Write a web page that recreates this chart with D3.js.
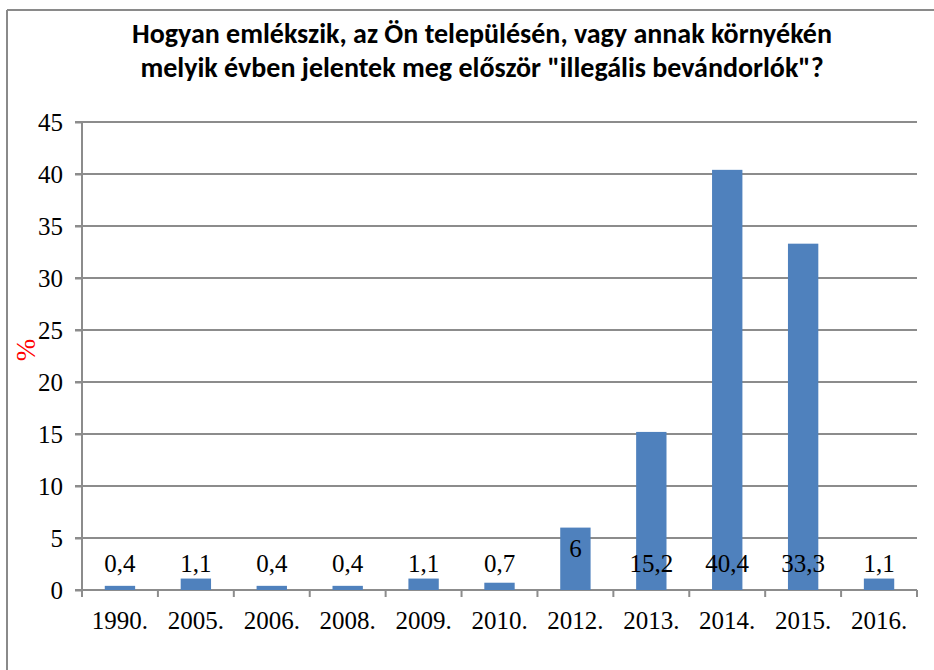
<!DOCTYPE html>
<html>
<head>
<meta charset="utf-8">
<script src="https://cdnjs.cloudflare.com/ajax/libs/d3/7.8.5/d3.min.js"></script>
<style>
  body { margin: 0; background: #fff; }
  svg { display: block; }
</style>
</head>
<body>
<div id="content"></div>
<script>
// chart data
var years = ["1990.", "2005.", "2006.", "2008.", "2009.", "2010.", "2012.", "2013.", "2014.", "2015.", "2016."],
    values = [0.4, 1.1, 0.4, 0.4, 1.1, 0.7, 6, 15.2, 40.4, 33.3, 1.1],
    valueLabels = ["0,4", "1,1", "0,4", "0,4", "1,1", "0,7", "6", "15,2", "40,4", "33,3", "1,1"],
    yTicks = [0, 5, 10, 15, 20, 25, 30, 35, 40, 45],
    titleLines = ["Hogyan emlékszik, az Ön településén, vagy annak környékén",
                  "melyik évben jelentek meg először \"illegális bevándorlók\"?"],
    yLabel = "%",
    labelInsideTop = ["2012."];

var width = 934,
    height = 670,
    margin = {top: 122, right: 17, bottom: 80, left: 82},
    serif = "'Liberation Serif', 'DejaVu Serif', serif",
    grid = "#8c8c8c";

var svg = d3.select('#content').append('svg')
    .attr('width', width)
    .attr('height', height);

// frame (only top and left edges are visible in the original)
svg.append('line').attr('x1', 7).attr('x2', width).attr('y1', 10).attr('y2', 10)
    .attr('stroke', '#8a8a8a').attr('stroke-width', 2);
svg.append('line').attr('x1', 7).attr('x2', 7).attr('y1', 10).attr('y2', height)
    .attr('stroke', '#8a8a8a').attr('stroke-width', 2);

var xScale = d3.scaleBand()
        .domain(years)
        .range([margin.left, width - margin.right])
        .paddingInner(0.6)
        .paddingOuter(0.3),
    yScale = d3.scaleLinear()
        .domain([0, 45])
        .range([height - margin.bottom, margin.top]);

// gridlines
svg.append('g')
    .selectAll('line')
    .data(yTicks)
    .enter()
    .append('line')
    .attr('x1', margin.left - 7)
    .attr('x2', width - margin.right)
    .attr('y1', function(d){ return yScale(d); })
    .attr('y2', function(d){ return yScale(d); })
    .attr('stroke', grid)
    .attr('stroke-width', 2);

// y axis
var yAxis = d3.axisLeft(yScale)
    .tickValues(yTicks)
    .tickSize(7)
    .tickPadding(12);
var gy = svg.append('g')
    .attr('transform', 'translate(' + margin.left + ',0)')
    .call(yAxis);
gy.select('.domain').attr('stroke', grid).attr('stroke-width', 2)
    .attr('d', 'M0,' + yScale(45) + 'V' + (yScale(0) + 7));
gy.selectAll('.tick line').attr('stroke', grid).attr('stroke-width', 2);
gy.selectAll('.tick text')
    .attr('font-family', serif)
    .attr('font-size', 25)
    .attr('fill', '#000');

// x axis: ticks between categories
var step = xScale.step(),
    x0 = margin.left,
    bounds = d3.range(years.length + 1).map(function(i){ return x0 + i * step; });
svg.append('g')
    .selectAll('line')
    .data(bounds)
    .enter()
    .append('line')
    .attr('x1', function(d){ return d; })
    .attr('x2', function(d){ return d; })
    .attr('y1', yScale(0))
    .attr('y2', yScale(0) + 7)
    .attr('stroke', grid)
    .attr('stroke-width', 2);

svg.append('g')
    .selectAll('text')
    .data(years)
    .enter()
    .append('text')
    .attr('x', function(d){ return xScale(d) + xScale.bandwidth() / 2; })
    .attr('y', yScale(0) + 39)
    .attr('text-anchor', 'middle')
    .attr('font-family', serif)
    .attr('font-size', 25)
    .text(function(d){ return d; });

// bars
svg.append('g')
    .selectAll('rect')
    .data(years)
    .enter()
    .append('rect')
    .attr('x', function(d){ return xScale(d); })
    .attr('y', function(d, i){ return yScale(values[i]); })
    .attr('width', xScale.bandwidth())
    .attr('height', function(d, i){ return yScale(0) - yScale(values[i]); })
    .attr('fill', '#4f81bd');

// value labels
svg.append('g')
    .selectAll('text')
    .data(years)
    .enter()
    .append('text')
    .attr('x', function(d){ return xScale(d) + xScale.bandwidth() / 2; })
    .attr('y', function(d, i){
        if(labelInsideTop.indexOf(d) >= 0)
            return yScale(values[i]) + 29;
        return yScale(0) - 18;
    })
    .attr('text-anchor', 'middle')
    .attr('font-family', serif)
    .attr('font-size', 25)
    .text(function(d, i){ return valueLabels[i]; });

// axis title
svg.append('text')
    .attr('transform', 'translate(35,350) rotate(-90)')
    .attr('text-anchor', 'middle')
    .attr('font-family', serif)
    .attr('font-size', 27)
    .attr('fill', '#ff0000')
    .text(yLabel);

// chart title
svg.append('g')
    .selectAll('text')
    .data(titleLines)
    .enter()
    .append('text')
    .attr('x', 482)
    .attr('y', function(d, i){ return 43 + i * 34; })
    .attr('text-anchor', 'middle')
    .attr('font-family', "Carlito, 'Liberation Sans Narrow', 'Open Sans', sans-serif")
    .attr('font-weight', 'bold')
    .attr('font-size', 28)
    .text(function(d){ return d; });
</script>
</body>
</html>
